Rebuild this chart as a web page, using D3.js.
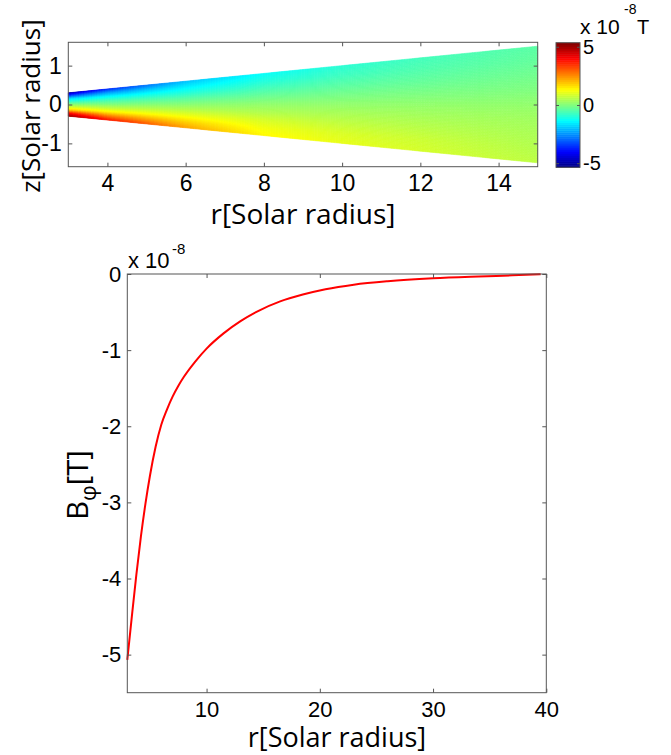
<!DOCTYPE html>
<html>
<head>
<meta charset="utf-8">
<script src="https://cdn.jsdelivr.net/npm/d3@7"></script>
<style>
  body { margin: 0; background: #fff; }
  .tick text { font-family: "Liberation Sans", Arial, sans-serif; fill: #000; }
  .tick line { stroke: #555; }
  .lbl { font-family: "Open Sans", "Noto Sans", sans-serif; fill: #000; }
</style>
</head>
<body>
<div id="chart"></div>
<script>
// Top panel: field grid (rows = z / edge height, columns = r)
var fieldR = [3, 4, 6, 8, 10, 12, 15];
var fieldS = [1, 0.75, 0.5, 0.25, 0, -0.25, -0.5, -0.75, -1];
var fieldValues = [
    [-5.0, -3.7, -2.0, -1.3, -0.9, -0.65, -0.4],
    [-3.4, -2.4, -1.5, -1.0, -0.7, -0.5, -0.3],
    [-1.8, -1.4, -1.0, -0.6, -0.4, -0.3, -0.15],
    [-0.9, -0.6, -0.4, -0.2, -0.1, -0.05, 0.0],
    [0.0, 0.0, 0.1, 0.2, 0.2, 0.2, 0.2],
    [0.9, 0.7, 0.6, 0.5, 0.45, 0.4, 0.35],
    [1.9, 1.5, 1.2, 0.9, 0.7, 0.6, 0.45],
    [3.8, 2.7, 1.8, 1.2, 0.95, 0.8, 0.55],
    [5.0, 3.8, 2.3, 1.4, 1.1, 0.9, 0.65]
];
// wedge edges: half height z at the inner and outer radius
var wedgeR = [3, 15];
var wedgeHalf = [0.3, 1.5];
var topXTicks = [4, 6, 8, 10, 12, 14];
var topYTicks = [-1, 0, 1];
var cbarTicks = [-5, 0, 5];

// Bottom panel: B_phi (x 1e-8 T) vs r
var curveR = [3.0, 3.4, 3.8, 4.2, 4.6, 5.0, 5.5, 6.0, 6.5, 7.0, 7.5, 8.0, 9.0, 10.0, 11.5, 13.0, 14.5, 16.5, 18.5, 20.5, 23, 26, 30, 34, 37, 39.5];
var curveB = [-5.07, -4.5, -3.95, -3.45, -3.02, -2.65, -2.27, -1.98, -1.78, -1.61, -1.47, -1.35, -1.15, -0.98, -0.78, -0.62, -0.49, -0.36, -0.27, -0.2, -0.14, -0.095, -0.057, -0.033, -0.018, -0.004];
var botXTicks = [10, 20, 30, 40];
var botYTicks = [0, -1, -2, -3, -4, -5];

var width = 671, height = 755;
var svg = d3.select("#chart").append("svg")
    .attr("width", width)
    .attr("height", height);

// ---------- top panel ----------
var tx = d3.scaleLinear().domain([3, 15]).range([68.3, 537.7]);
var ty = d3.scaleLinear().domain([-1.6, 1.6]).range([166.7, 42.3]);

var cMin = -5.35, cMax = 5.35;
var jetT = [0, 0.125, 0.375, 0.625, 0.875, 1];
var jetC = ["#000080", "#0000ff", "#00ffff", "#ffff00", "#ff0000", "#800000"];
var color = d3.scaleLinear()
    .domain(jetT.map(function (t) { return cMin + t * (cMax - cMin); }))
    .range(jetC)
    .clamp(true);

var halfZ = d3.scaleLinear().domain(wedgeR).range(wedgeHalf);
var rowScales = fieldValues.map(function (row) {
    return d3.scaleLinear().domain(fieldR).range(row);
});
function fieldAt(r, s) {
    var col = rowScales.map(function (f) { return f(r); });
    return d3.scaleLinear().domain(fieldS).range(col)(s);
}

var nr = 180, ns = 70;
var cells = [];
for (var i = 0; i < nr; i++) {
    var r0 = 3 + 12 * i / nr, r1 = 3 + 12 * (i + 1) / nr;
    for (var j = 0; j < ns; j++) {
        var s0 = 1 - 2 * j / ns, s1 = 1 - 2 * (j + 1) / ns;
        cells.push({ r0: r0, r1: r1, s0: s0, s1: s1,
            v: fieldAt((r0 + r1) / 2, (s0 + s1) / 2) });
    }
}

var topG = svg.append("g");
topG.selectAll("polygon.cell").data(cells).enter()
    .append("polygon")
    .attr("class", "cell")
    .attr("points", function (c) {
        return [
            [tx(c.r0), ty(c.s0 * halfZ(c.r0))],
            [tx(c.r1), ty(c.s0 * halfZ(c.r1))],
            [tx(c.r1), ty(c.s1 * halfZ(c.r1))],
            [tx(c.r0), ty(c.s1 * halfZ(c.r0))]
        ].join(" ");
    })
    .attr("fill", function (c) { return color(c.v); })
    .attr("stroke", function (c) { return color(c.v); })
    .attr("stroke-width", 0.6);

function boxAxes(g, x, y, xt, yt, fs, padX, padY) {
    var x0 = x.range()[0], x1 = x.range()[1];
    var y0 = y.range()[0], y1 = y.range()[1];
    g.append("g").attr("transform", "translate(0," + y0 + ")")
        .call(d3.axisBottom(x).tickValues(xt).tickSizeInner(-4).tickSizeOuter(0).tickPadding(padX))
        .call(function (a) { a.select(".domain").remove(); a.selectAll("text").attr("font-size", fs); });
    g.append("g").attr("transform", "translate(0," + y1 + ")")
        .call(d3.axisTop(x).tickValues(xt).tickSizeInner(-4).tickSizeOuter(0).tickFormat(""))
        .call(function (a) { a.select(".domain").remove(); });
    g.append("g").attr("transform", "translate(" + x0 + ",0)")
        .call(d3.axisLeft(y).tickValues(yt).tickSizeInner(-4).tickSizeOuter(0).tickPadding(padY)
            .tickFormat(function (d) { return String(d); }))
        .call(function (a) { a.select(".domain").remove(); a.selectAll("text").attr("font-size", fs); });
    g.append("g").attr("transform", "translate(" + x1 + ",0)")
        .call(d3.axisRight(y).tickValues(yt).tickSizeInner(-4).tickSizeOuter(0).tickFormat(""))
        .call(function (a) { a.select(".domain").remove(); });
    g.append("rect")
        .attr("x", x0).attr("y", y1)
        .attr("width", x1 - x0).attr("height", y0 - y1)
        .attr("fill", "none").attr("stroke", "#555").attr("stroke-width", 1);
}

boxAxes(topG, tx, ty, topXTicks, topYTicks, 23, 8, 6.6);

topG.append("text").attr("class", "lbl")
    .attr("x", 303).attr("y", 224)
    .attr("text-anchor", "middle").attr("font-size", 28)
    .text("r[Solar radius]");
topG.append("text").attr("class", "lbl")
    .attr("transform", "translate(40,106) rotate(-90)")
    .attr("text-anchor", "middle").attr("font-size", 26)
    .text("z[Solar radius]");

// colour bar
var cy = d3.scaleLinear().domain([cMin, cMax]).range([167.3, 42.7]);
var cbX0 = 556, cbX1 = 580;
var levels = d3.range(64).map(function (k) { return cMin + (k + 0.5) * (cMax - cMin) / 64; });
var step = (cMax - cMin) / 64;
var cb = svg.append("g");
cb.selectAll("rect.lev").data(levels).enter()
    .append("rect").attr("class", "lev")
    .attr("x", cbX0).attr("width", cbX1 - cbX0)
    .attr("y", function (v) { return cy(v + step / 2); })
    .attr("height", function (v) { return cy(v - step / 2) - cy(v + step / 2) + 0.5; })
    .attr("fill", function (v) { return color(v); });
cb.append("g").attr("transform", "translate(" + cbX1 + ",0)")
    .call(d3.axisRight(cy).tickValues(cbarTicks).tickSizeInner(-3).tickSizeOuter(0).tickPadding(3)
        .tickFormat(function (d) { return String(d); }))
    .call(function (a) { a.select(".domain").remove(); a.selectAll("text").attr("font-size", 20); });
cb.append("g").attr("transform", "translate(" + cbX0 + ",0)")
    .call(d3.axisLeft(cy).tickValues(cbarTicks).tickSizeInner(-3).tickSizeOuter(0).tickFormat(""))
    .call(function (a) { a.select(".domain").remove(); });
cb.append("rect")
    .attr("x", cbX0).attr("y", 42.7)
    .attr("width", cbX1 - cbX0).attr("height", 167.3 - 42.7)
    .attr("fill", "none").attr("stroke", "#555");

var cbUnit = cb.append("text")
    .attr("font-family", "Liberation Sans, Arial, sans-serif");
cbUnit.append("tspan").attr("x", 580).attr("y", 34).attr("font-size", 21).text("x 10");
cbUnit.append("tspan").attr("x", 624).attr("y", 14).attr("font-size", 14).text("-8");
cbUnit.append("tspan").attr("x", 637).attr("y", 34).attr("font-size", 20).text("T");

// ---------- bottom panel ----------
var bx = d3.scaleLinear().domain([3, 40]).range([127.3, 546.3]);
var by = d3.scaleLinear().domain([-5.5, 0]).range([692.7, 274]);
var bot = svg.append("g");

var pts = curveR.map(function (r, k) { return [r, curveB[k]]; });
bot.append("path")
    .datum(pts)
    .attr("fill", "none")
    .attr("stroke", "#ff0000")
    .attr("stroke-width", 2)
    .attr("d", d3.line()
        .x(function (d) { return bx(d[0]); })
        .y(function (d) { return by(d[1]); })
        .curve(d3.curveMonotoneX));

boxAxes(bot, bx, by, botXTicks, botYTicks, 22, 8.5, 6);

var mult = bot.append("text")
    .attr("font-family", "Liberation Sans, Arial, sans-serif");
mult.append("tspan").attr("x", 128).attr("y", 268).attr("font-size", 22).text("x 10");
mult.append("tspan").attr("x", 172).attr("y", 254).attr("font-size", 15).text("-8");

bot.append("text").attr("class", "lbl")
    .attr("x", 337).attr("y", 747)
    .attr("text-anchor", "middle").attr("font-size", 27)
    .text("r[Solar radius]");

var yl = bot.append("text").attr("class", "lbl")
    .attr("transform", "translate(88,485) rotate(-90)")
    .attr("text-anchor", "middle").attr("font-size", 29);
yl.append("tspan").text("B");
yl.append("tspan").attr("font-size", 22).attr("dy", 8).text("\u03c6");
yl.append("tspan").attr("dy", -8).text("[T]");
</script>
</body>
</html>
